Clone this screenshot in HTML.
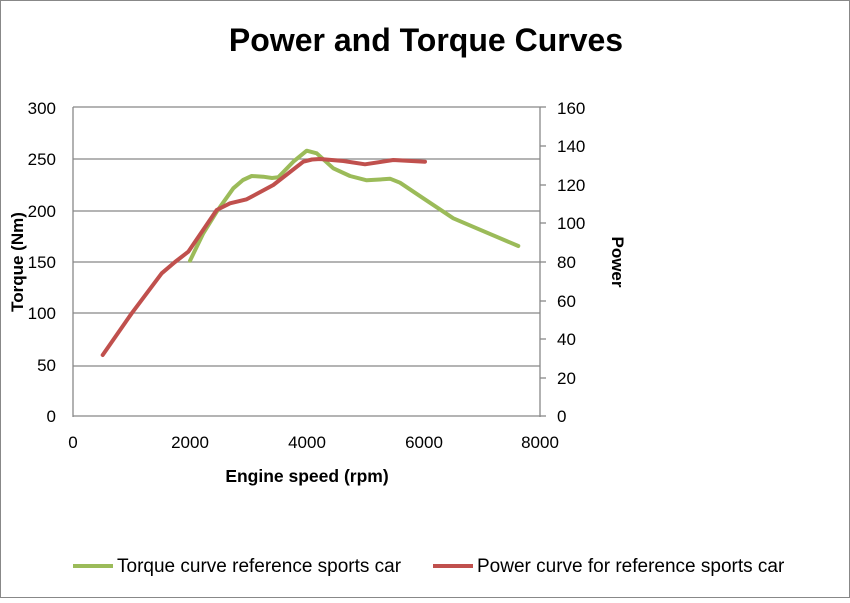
<!DOCTYPE html>
<html><head><style>body{margin:0;background:#fff}</style></head><body>
<svg width="850" height="598" xmlns="http://www.w3.org/2000/svg" font-family="Liberation Sans, sans-serif">
<rect x="0.5" y="0.5" width="849" height="597" fill="#fff" stroke="#888"/>
<text x="426" y="51" font-size="32" font-weight="bold" text-anchor="middle">Power and Torque Curves</text>
<g stroke="#888" stroke-width="1.3">
<line x1="73" y1="107" x2="540" y2="107"/>
<line x1="73" y1="159" x2="540" y2="159"/><line x1="73" y1="211" x2="540" y2="211"/>
<line x1="73" y1="262" x2="540" y2="262"/><line x1="73" y1="313" x2="540" y2="313"/>
<line x1="73" y1="366" x2="540" y2="366"/>
<line x1="73" y1="107" x2="73" y2="417"/><line x1="540" y1="107" x2="540" y2="417"/>
<line x1="73" y1="416" x2="540" y2="416"/>
<line x1="540" y1="107" x2="546" y2="107"/><line x1="540" y1="146" x2="546" y2="146"/>
<line x1="540" y1="185" x2="546" y2="185"/><line x1="540" y1="223" x2="546" y2="223"/>
<line x1="540" y1="262" x2="546" y2="262"/><line x1="540" y1="301" x2="546" y2="301"/>
<line x1="540" y1="339" x2="546" y2="339"/><line x1="540" y1="378" x2="546" y2="378"/>
<line x1="540" y1="416" x2="546" y2="416"/>
</g>
<g font-size="17" text-anchor="end">
<text x="56" y="114">300</text><text x="56" y="165">250</text><text x="56" y="217">200</text>
<text x="56" y="268">150</text><text x="56" y="319">100</text><text x="56" y="371">50</text><text x="56" y="422">0</text>
</g>
<g font-size="17">
<text x="557" y="114">160</text><text x="557" y="152">140</text><text x="557" y="191">120</text>
<text x="557" y="229">100</text><text x="557" y="268">80</text><text x="557" y="307">60</text>
<text x="557" y="345">40</text><text x="557" y="384">20</text><text x="557" y="422">0</text>
</g>
<g font-size="17" text-anchor="middle">
<text x="73" y="448">0</text><text x="190" y="448">2000</text><text x="307" y="448">4000</text>
<text x="424" y="448">6000</text><text x="540" y="448">8000</text>
</g>
<text x="307" y="482" font-size="17.5" font-weight="bold" text-anchor="middle">Engine speed (rpm)</text>
<text transform="translate(23,262) rotate(-90)" font-size="17" font-weight="bold" text-anchor="middle">Torque (Nm)</text>
<text transform="translate(612,262) rotate(90)" font-size="17" font-weight="bold" text-anchor="middle">Power</text>
<polyline fill="none" stroke="#9bbb59" stroke-width="4" stroke-linejoin="round" stroke-linecap="round" points="190,260.7 203.3,233.3 216.7,211.7 233.3,188.3 243,180 251.7,176 263.3,176.7 272,178 278.3,177.3 293.3,161.7 306.7,150.7 316.7,153.3 333.3,168.3 350,176 366.7,180.3 380,179.5 390,178.7 400,182.7 423.3,198.3 453.3,218.3 476.7,228.3 518.3,246"/>
<polyline fill="none" stroke="#c0504d" stroke-width="4" stroke-linejoin="round" stroke-linecap="round" points="102.7,355 131.7,313.3 161.7,273.3 175,262 188.3,251.7 216.7,210 230,203.3 246.7,199.3 273.3,185 303.3,161.7 312,159.5 320,159 343.3,161 365,164.3 393.3,160 425,161.7"/>
<line x1="73" y1="566" x2="113" y2="566" stroke="#9bbb59" stroke-width="4"/>
<text x="117" y="572" font-size="19">Torque curve reference sports car</text>
<line x1="433" y1="566" x2="473" y2="566" stroke="#c0504d" stroke-width="4"/>
<text x="477" y="572" font-size="19">Power curve for reference sports car</text>
</svg>
</body></html>
